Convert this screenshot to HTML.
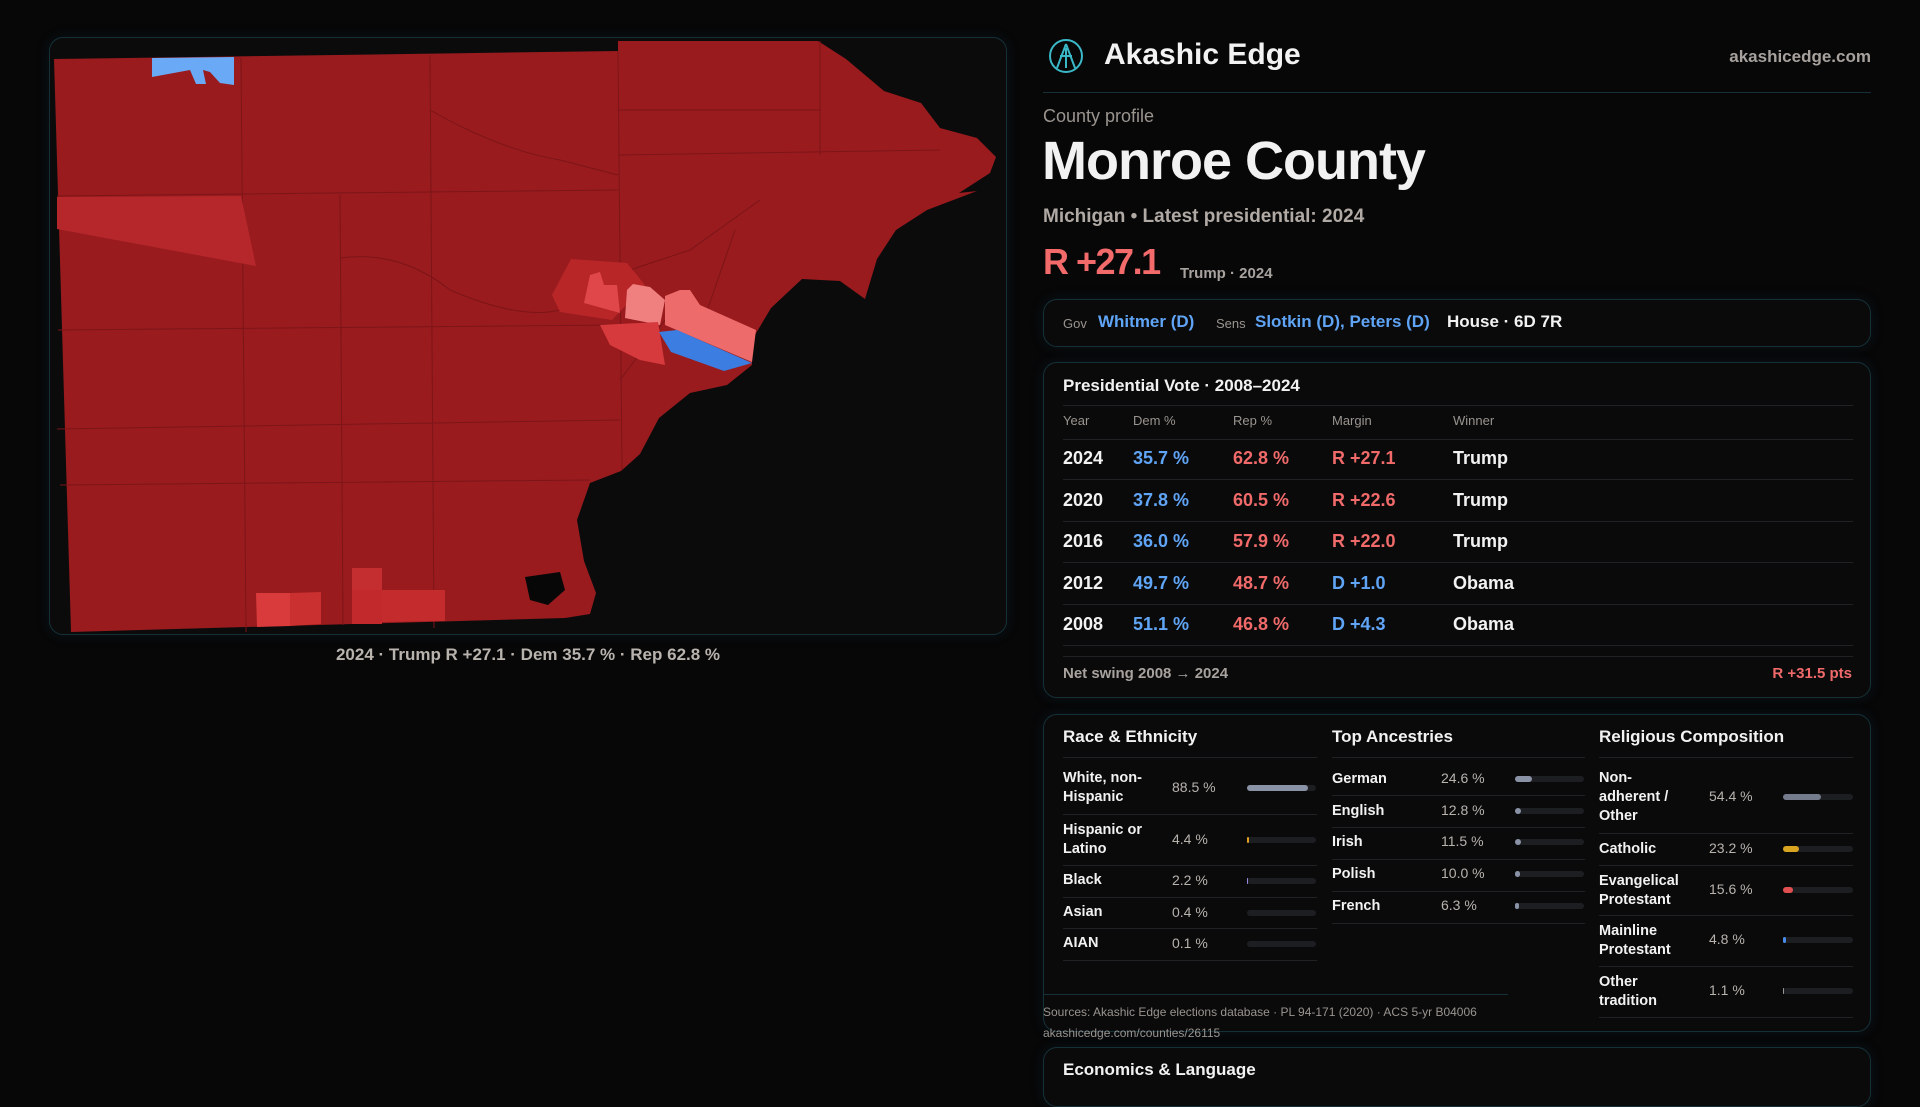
<!DOCTYPE html>
<html><head><meta charset="utf-8"><style>
*{margin:0;padding:0;box-sizing:border-box}
body{width:1920px;height:1080px;background:#070708;font-family:"Liberation Sans",sans-serif;color:#f2f2f2;position:relative;overflow:hidden}
.a{position:absolute;white-space:nowrap}
.box{position:absolute;border:1px solid #163038;border-radius:14px;background:#0a0a0b;box-shadow:0 0 12px rgba(20,60,70,.25)}
.blue{color:#5fa4f5}.red{color:#f06a6a}.mut{color:#a8a29e}
.th{font-size:13px;color:#9a948f}
.tr{font-size:18px;font-weight:bold}
.ln{position:absolute;height:1px;background:#1f2124}
.dl{font-size:14.5px;font-weight:bold;line-height:19px}
.dv{font-size:14px;color:#b9b3ae}
.bar{position:absolute;height:6px;border-radius:3px;background:#1d1e21}
.bar i{position:absolute;left:0;top:0;height:6px;border-radius:3px}
</style></head><body>

<div class="box" style="left:49px;top:37px;width:958px;height:598px;background:#0b0b0c"></div>
<svg class="a" style="left:0;top:0" width="1020" height="640" viewBox="0 0 1020 640">
<polygon fill="#991b1e" points="54,59 618,51 618,41 818,41 846,59 884,91 921,103 940,128 977,138 996,157 990,173 959,193 977,191 927,210 896,230 877,259 865,299 840,281 802,279 771,308 752,340 752,365 727,385 690,393 659,418 640,454 621,471 590,483 577,520 584,561 596,593 590,614 565,618 71,632"/>
<g stroke="#7c1518" stroke-width="1" fill="none">
<path d="M241,58 L246,632 M430,55 L434,628 M618,51 L622,470 M57,196 L618,190 M58,330 L617,325 M60,485 L590,480 M57,429 L620,420 M340,195 L343,625 M820,41 L820,155 M618,155 L940,150 M618,110 L820,110 M690,360 L735,230 M620,380 L680,300 M630,270 L690,250 L760,200"/>
<path d="M340,258 Q400,250 450,290 Q520,320 560,310"/>
<path d="M430,110 Q500,150 560,160 L618,175"/>
</g>
<polygon fill="#b5272a" points="57,197 241,196 256,266 57,229"/>
<polygon fill="#6aa9f5" points="152,58 234,57 234,85 220,83 210,72 203,70 206,84 196,84 190,70 152,77"/>
<polygon fill="#b82628" points="552,295 571,259 627,263 645,285 612,320 560,312"/>
<polygon fill="#e0474a" points="584,303 590,275 600,272 604,285 617,285 620,313"/>
<polygon fill="#f08080" points="627,290 633,284 650,287 665,300 660,325 625,318"/>
<polygon fill="#ee6b6b" points="665,296 680,290 690,290 700,305 756,330 752,362 700,340 665,325"/>
<polygon fill="#d63a3d" points="600,325 658,322 665,365 640,360 610,345"/>
<polygon fill="#3b7de0" points="659,332 677,330 727,352 752,363 724,371 671,352"/>
<polygon fill="#d93a3c" points="256,593 290,593 290,626 257,627"/>
<polygon fill="#c9302f" points="290,593 321,592 321,624 290,626"/>
<polygon fill="#c52e30" points="352,568 382,568 382,590 352,590"/>
<polygon fill="#c2292c" points="352,590 382,590 382,624 352,624"/>
<polygon fill="#c42b2d" points="382,590 445,590 445,621 382,622"/>
<polygon fill="#070708" points="525,577 560,572 565,590 548,605 530,600"/>
</svg>
<div class="a mut" style="left:0;width:1056px;text-align:center;top:645px;font-size:17px;font-weight:bold;color:#b9b3ae">2024 · Trump R +27.1 · Dem 35.7 % · Rep 62.8 %</div>

<svg class="a" style="left:1048px;top:38px" width="36" height="36" viewBox="0 0 36 36"><circle cx="18" cy="18" r="16" fill="none" stroke="#3bb8c8" stroke-width="2"/><path d="M18 6 L9 30 M18 6 L27 30 M12 18 L24 18 M18 10 L18 30" stroke="#3bb8c8" stroke-width="2" fill="none"/></svg>
<div class="a" style="left:1104px;top:38px;font-size:30px;font-weight:bold">Akashic Edge</div>
<div class="a" style="right:49px;top:47px;font-size:17px;font-weight:bold;color:#a8a29e">akashicedge.com</div>
<div class="ln" style="left:1043px;top:92px;width:828px;background:#173038"></div>
<div class="a mut" style="left:1043px;top:106px;font-size:18px;color:#9a948f">County profile</div>
<div class="a" style="left:1042px;top:130px;font-size:54px;font-weight:bold;letter-spacing:-1px">Monroe County</div>
<div class="a" style="left:1043px;top:206px;font-size:19px;font-weight:bold;color:#b0a9a4">Michigan • Latest presidential: 2024</div>
<div class="a red" style="left:1043px;top:241px;font-size:36px;font-weight:bold;letter-spacing:-1.5px;color:#f26a6a">R +27.1</div>
<div class="a mut" style="left:1180px;top:265px;font-size:15px;font-weight:bold">Trump · 2024</div>

<div class="box" style="left:1043px;top:299px;width:828px;height:48px"></div>
<div class="a" style="left:1063px;top:316px;font-size:13px;color:#9a948f">Gov</div>
<div class="a blue" style="left:1098px;top:312px;font-size:17px;font-weight:bold">Whitmer (D)</div>
<div class="a" style="left:1216px;top:316px;font-size:13px;color:#9a948f">Sens</div>
<div class="a blue" style="left:1255px;top:312px;font-size:17px;font-weight:bold">Slotkin (D), Peters (D)</div>
<div class="a" style="left:1447px;top:312px;font-size:17px;font-weight:bold">House · 6D 7R</div>

<div class="box" style="left:1043px;top:362px;width:828px;height:336px"></div>
<div class="a" style="left:1063px;top:376px;font-size:17px;font-weight:bold">Presidential Vote · 2008–2024</div>
<div class="ln" style="left:1063px;top:405px;width:790px"></div>
<div class="a th" style="left:1063px;top:413px">Year</div><div class="a th" style="left:1133px;top:413px">Dem %</div><div class="a th" style="left:1233px;top:413px">Rep %</div><div class="a th" style="left:1332px;top:413px">Margin</div><div class="a th" style="left:1453px;top:413px">Winner</div>
<div class="ln" style="left:1063px;top:439px;width:790px"></div>

<div class="a tr" style="left:1063px;top:448px">2024</div><div class="a tr blue" style="left:1133px;top:448px">35.7 %</div><div class="a tr red" style="left:1233px;top:448px">62.8 %</div><div class="a tr red" style="left:1332px;top:448px">R +27.1</div><div class="a tr" style="left:1453px;top:448px">Trump</div>
<div class="ln" style="left:1063px;top:479px;width:790px"></div>
<div class="a tr" style="left:1063px;top:490px">2020</div><div class="a tr blue" style="left:1133px;top:490px">37.8 %</div><div class="a tr red" style="left:1233px;top:490px">60.5 %</div><div class="a tr red" style="left:1332px;top:490px">R +22.6</div><div class="a tr" style="left:1453px;top:490px">Trump</div>
<div class="ln" style="left:1063px;top:521px;width:790px"></div>
<div class="a tr" style="left:1063px;top:531px">2016</div><div class="a tr blue" style="left:1133px;top:531px">36.0 %</div><div class="a tr red" style="left:1233px;top:531px">57.9 %</div><div class="a tr red" style="left:1332px;top:531px">R +22.0</div><div class="a tr" style="left:1453px;top:531px">Trump</div>
<div class="ln" style="left:1063px;top:562px;width:790px"></div>
<div class="a tr" style="left:1063px;top:573px">2012</div><div class="a tr blue" style="left:1133px;top:573px">49.7 %</div><div class="a tr red" style="left:1233px;top:573px">48.7 %</div><div class="a tr blue" style="left:1332px;top:573px">D +1.0</div><div class="a tr" style="left:1453px;top:573px">Obama</div>
<div class="ln" style="left:1063px;top:604px;width:790px"></div>
<div class="a tr" style="left:1063px;top:614px">2008</div><div class="a tr blue" style="left:1133px;top:614px">51.1 %</div><div class="a tr red" style="left:1233px;top:614px">46.8 %</div><div class="a tr blue" style="left:1332px;top:614px">D +4.3</div><div class="a tr" style="left:1453px;top:614px">Obama</div>
<div class="ln" style="left:1063px;top:645px;width:790px"></div>
<div class="ln" style="left:1063px;top:656px;width:790px"></div>
<div class="a" style="left:1063px;top:665px;font-size:15px;font-weight:bold;color:#a8a29e">Net swing 2008 → 2024</div>
<div class="a red" style="right:68px;top:665px;font-size:15px;font-weight:bold">R +31.5 pts</div>

<div class="box" style="left:1043px;top:714px;width:828px;height:318px"></div>
<div class="a" style="left:1063px;top:727px;font-size:17px;font-weight:bold">Race &amp; Ethnicity</div>
<div class="a" style="left:1332px;top:727px;font-size:17px;font-weight:bold">Top Ancestries</div>
<div class="a" style="left:1599px;top:727px;font-size:17px;font-weight:bold">Religious Composition</div>
<div class="ln" style="left:1063px;top:757px;width:254px"></div><div class="ln" style="left:1332px;top:757px;width:253px"></div><div class="ln" style="left:1599px;top:757px;width:254px"></div>

<div class="a dl" style="left:1063px;top:769px">White, non-<br>Hispanic</div><div class="a dv" style="left:1172px;top:779px">88.5 %</div><div class="bar" style="left:1247px;top:785px;width:69px"><i style="width:61px;background:#8a93a6"></i></div>
<div class="ln" style="left:1063px;top:814px;width:254px"></div>
<div class="a dl" style="left:1063px;top:821px">Hispanic or<br>Latino</div><div class="a dv" style="left:1172px;top:831px">4.4 %</div><div class="bar" style="left:1247px;top:837px;width:69px"><i style="width:2px;background:#e0a020"></i></div>
<div class="ln" style="left:1063px;top:865px;width:254px"></div>
<div class="a dl" style="left:1063px;top:871px">Black</div><div class="a dv" style="left:1172px;top:872px">2.2 %</div><div class="bar" style="left:1247px;top:878px;width:69px"><i style="width:1px;background:#9a8ae0"></i></div>
<div class="ln" style="left:1063px;top:897px;width:254px"></div>
<div class="a dl" style="left:1063px;top:903px">Asian</div><div class="a dv" style="left:1172px;top:904px">0.4 %</div><div class="bar" style="left:1247px;top:910px;width:69px"></div>
<div class="ln" style="left:1063px;top:928px;width:254px"></div>
<div class="a dl" style="left:1063px;top:934px">AIAN</div><div class="a dv" style="left:1172px;top:935px">0.1 %</div><div class="bar" style="left:1247px;top:941px;width:69px"></div>
<div class="ln" style="left:1063px;top:960px;width:254px"></div>

<div class="a dl" style="left:1332px;top:770px">German</div><div class="a dv" style="left:1441px;top:770px">24.6 %</div><div class="bar" style="left:1515px;top:776px;width:69px"><i style="width:17px;background:#8a93a6"></i></div>
<div class="ln" style="left:1332px;top:795px;width:253px"></div>
<div class="a dl" style="left:1332px;top:802px">English</div><div class="a dv" style="left:1441px;top:802px">12.8 %</div><div class="bar" style="left:1515px;top:808px;width:69px"><i style="width:6px;background:#8a93a6"></i></div>
<div class="ln" style="left:1332px;top:827px;width:253px"></div>
<div class="a dl" style="left:1332px;top:833px">Irish</div><div class="a dv" style="left:1441px;top:833px">11.5 %</div><div class="bar" style="left:1515px;top:839px;width:69px"><i style="width:6px;background:#8a93a6"></i></div>
<div class="ln" style="left:1332px;top:859px;width:253px"></div>
<div class="a dl" style="left:1332px;top:865px">Polish</div><div class="a dv" style="left:1441px;top:865px">10.0 %</div><div class="bar" style="left:1515px;top:871px;width:69px"><i style="width:5px;background:#8a93a6"></i></div>
<div class="ln" style="left:1332px;top:891px;width:253px"></div>
<div class="a dl" style="left:1332px;top:897px">French</div><div class="a dv" style="left:1441px;top:897px">6.3 %</div><div class="bar" style="left:1515px;top:903px;width:69px"><i style="width:4px;background:#8a93a6"></i></div>
<div class="ln" style="left:1332px;top:923px;width:253px"></div>

<div class="a dl" style="left:1599px;top:769px">Non-<br>adherent /<br>Other</div><div class="a dv" style="left:1709px;top:788px">54.4 %</div><div class="bar" style="left:1783px;top:794px;width:70px"><i style="width:38px;background:#737b8c"></i></div>
<div class="ln" style="left:1599px;top:833px;width:254px"></div>
<div class="a dl" style="left:1599px;top:840px">Catholic</div><div class="a dv" style="left:1709px;top:840px">23.2 %</div><div class="bar" style="left:1783px;top:846px;width:70px"><i style="width:16px;background:#d9a520"></i></div>
<div class="ln" style="left:1599px;top:865px;width:254px"></div>
<div class="a dl" style="left:1599px;top:872px">Evangelical<br>Protestant</div><div class="a dv" style="left:1709px;top:881px">15.6 %</div><div class="bar" style="left:1783px;top:887px;width:70px"><i style="width:10px;background:#e05050"></i></div>
<div class="ln" style="left:1599px;top:915px;width:254px"></div>
<div class="a dl" style="left:1599px;top:922px">Mainline<br>Protestant</div><div class="a dv" style="left:1709px;top:931px">4.8 %</div><div class="bar" style="left:1783px;top:937px;width:70px"><i style="width:3px;background:#4a8ae8"></i></div>
<div class="ln" style="left:1599px;top:966px;width:254px"></div>
<div class="a dl" style="left:1599px;top:973px">Other<br>tradition</div><div class="a dv" style="left:1709px;top:982px">1.1 %</div><div class="bar" style="left:1783px;top:988px;width:70px"><i style="width:1px;background:#999"></i></div>
<div class="ln" style="left:1599px;top:1017px;width:254px"></div>

<div class="ln" style="left:1043px;top:994px;width:465px;background:#173038"></div>
<div class="a" style="left:1043px;top:1005px;font-size:12px;color:#9a948f">Sources: Akashic Edge elections database · PL 94-171 (2020) · ACS 5-yr B04006</div>
<div class="a" style="left:1043px;top:1026px;font-size:12px;color:#9a948f">akashicedge.com/counties/26115</div>

<div class="box" style="left:1043px;top:1047px;width:828px;height:60px"></div>
<div class="a" style="left:1063px;top:1060px;font-size:17px;font-weight:bold">Economics &amp; Language</div>
</body></html>
